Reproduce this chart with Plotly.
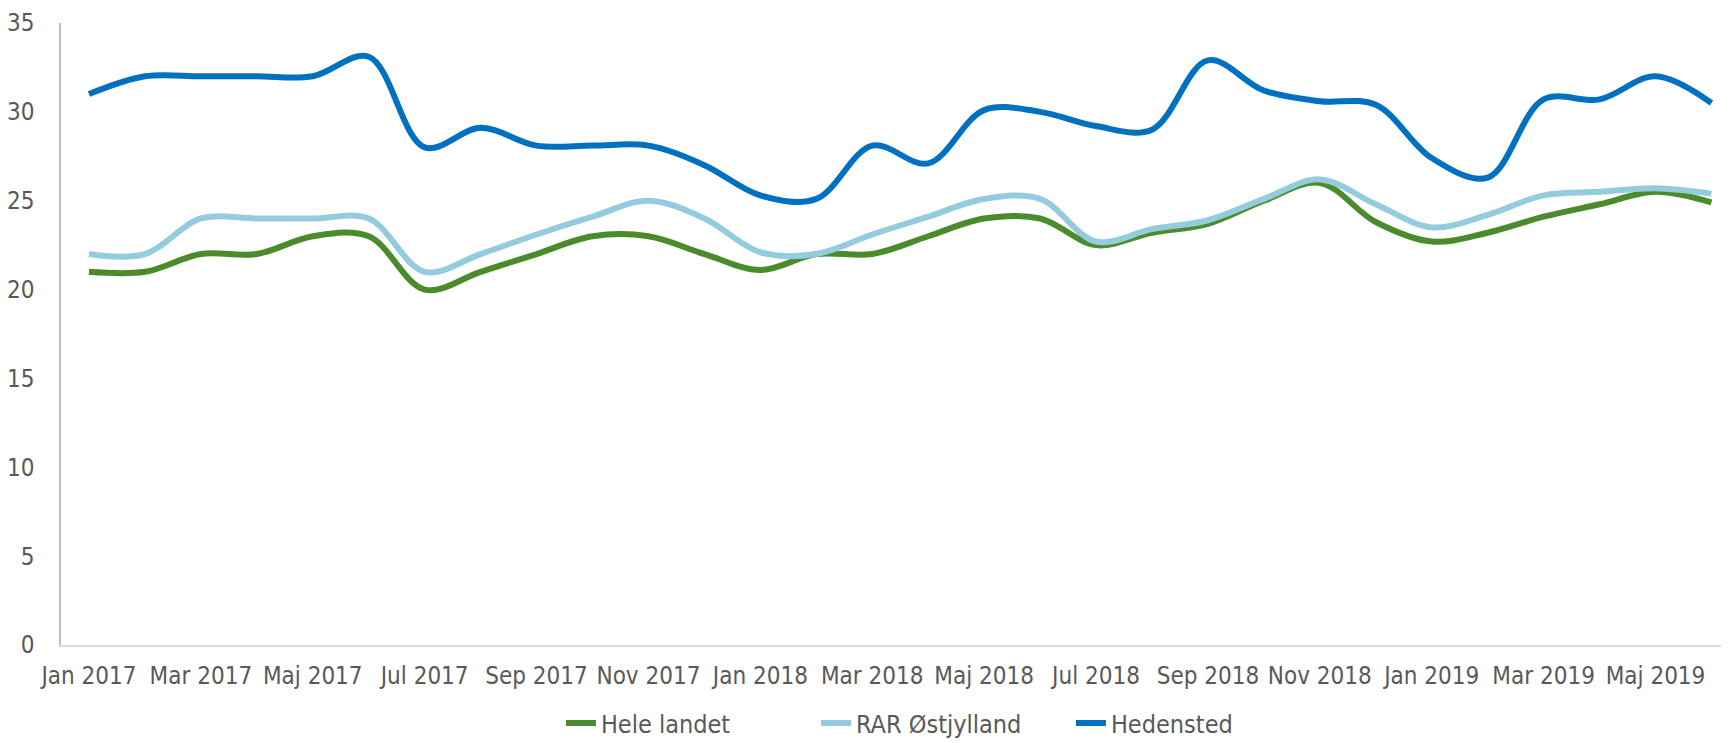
import plotly.graph_objects as go

months = ["Jan 2017", "Feb 2017", "Mar 2017", "Apr 2017", "Maj 2017", "Jun 2017",
          "Jul 2017", "Aug 2017", "Sep 2017", "Okt 2017", "Nov 2017", "Dec 2017",
          "Jan 2018", "Feb 2018", "Mar 2018", "Apr 2018", "Maj 2018", "Jun 2018",
          "Jul 2018", "Aug 2018", "Sep 2018", "Okt 2018", "Nov 2018", "Dec 2018",
          "Jan 2019", "Feb 2019", "Mar 2019", "Apr 2019", "Maj 2019", "Jun 2019"]

hele_landet = [21, 21, 22, 22, 23, 23, 20, 21, 22, 23, 23, 22,
               21.1, 22, 22, 23, 24, 24, 22.5, 23.2, 23.7, 25, 26, 23.8,
               22.7, 23.2, 24.1, 24.8, 25.5, 24.9]

rar_ostjylland = [22, 22, 24, 24, 24, 24, 21, 22, 23.1, 24.1, 25, 24,
                  22.1, 22, 23.1, 24.1, 25.1, 25.1, 22.7, 23.4, 23.9, 25.1, 26.2, 24.8,
                  23.5, 24.2, 25.3, 25.5, 25.7, 25.4]

hedensted = [31, 32, 32, 32, 32, 33.1, 28, 29.1, 28.1, 28.1, 28.1, 27,
             25.3, 25.1, 28.1, 27.1, 30.1, 30.0, 29.2, 29.0, 32.9, 31.2, 30.6, 30.4,
             27.4, 26.3, 30.7, 30.7, 32.0, 30.5]

tick_labels = months[::2]
y_ticks = [0, 5, 10, 15, 20, 25, 30, 35]

series = [
    ("Hele landet", hele_landet, "#4B8B2B"),
    ("RAR Østjylland", rar_ostjylland, "#93CDDD"),
    ("Hedensted", hedensted, "#0070C0"),
]

FONT = "DejaVu Sans Condensed, Liberation Sans, Arial, sans-serif"

fig = go.Figure()
for name, vals, color in series:
    fig.add_trace(go.Scatter(
        x=months, y=vals, name=name, mode="lines",
        line=dict(color=color, width=6, shape="spline", smoothing=1),
    ))

fig.update_layout(
    width=1721, height=735,
    margin=dict(l=53, r=3, t=15, b=98, autoexpand=False),
    paper_bgcolor="white", plot_bgcolor="white",
    font=dict(family=FONT, size=24, color="#595959"),
    showlegend=True,
    legend=dict(orientation="h", x=0.53, xanchor="center",
                yref="container", y=0.027, yanchor="middle",
                font=dict(family=FONT, size=25, color="#595959"),
                traceorder="normal", entrywidthmode="pixels", entrywidth=210),
    xaxis=dict(type="category", range=[-0.5, 29.26], tickmode="array",
               tickvals=tick_labels, ticktext=tick_labels, tickangle=0,
               showgrid=False, zeroline=False, showline=True, linecolor="#D9D9D9",
               linewidth=2, ticks="", ticklabelstandoff=8, automargin=False),
    yaxis=dict(range=[0, 35], tickmode="array", tickvals=y_ticks,
               showgrid=False, zeroline=False, showline=True, linecolor="#BFBFBF",
               linewidth=1.5, ticks="", ticklabelstandoff=20, automargin=False),
)

fig.write_html("out.html")
